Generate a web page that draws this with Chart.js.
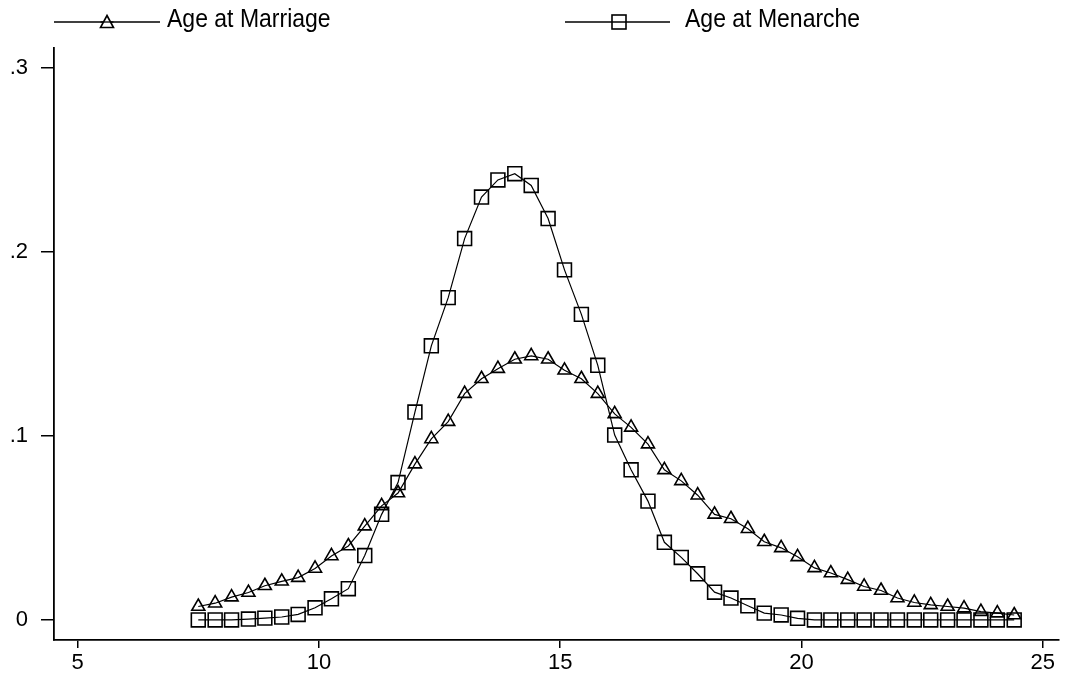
<!DOCTYPE html>
<html>
<head>
<meta charset="utf-8">
<script src="https://cdn.jsdelivr.net/npm/chart.js@4.4.1/dist/chart.umd.min.js"></script>
<style>
  html, body { margin: 0; padding: 0; background: #fff; }
  #wrap { width: 1070px; height: 679px; position: relative; }
</style>
</head>
<body>
<div id="wrap"><canvas id="c" width="1070" height="679"></canvas></div>
<script>
// ---- Data ----
const ageGrid = [7.50, 7.85, 8.19, 8.54, 8.88, 9.23, 9.57, 9.92, 10.26, 10.61,
  10.95, 11.30, 11.64, 11.99, 12.33, 12.68, 13.02, 13.37, 13.71, 14.06,
  14.40, 14.75, 15.09, 15.44, 15.78, 16.13, 16.47, 16.82, 17.16, 17.51,
  17.85, 18.20, 18.54, 18.89, 19.23, 19.58, 19.92, 20.27, 20.61, 20.96,
  21.30, 21.65, 21.99, 22.34, 22.68, 23.03, 23.37, 23.72, 24.06, 24.41];

const marriageDensity = [0.0073, 0.0091, 0.0124, 0.0149, 0.0186, 0.0210, 0.0230, 0.0280, 0.0348, 0.0402,
  0.0510, 0.0620, 0.0690, 0.0847, 0.0984, 0.1078, 0.1230, 0.1311, 0.1366, 0.1417,
  0.1435, 0.1417, 0.1357, 0.1311, 0.1230, 0.1120, 0.1047, 0.0956, 0.0816, 0.0756,
  0.0678, 0.0574, 0.0550, 0.0496, 0.0425, 0.0392, 0.0343, 0.0283, 0.0255, 0.0219,
  0.0182, 0.0160, 0.0119, 0.0095, 0.0082, 0.0073, 0.0064, 0.0045, 0.0037, 0.0027];

const menarcheDensity = [0, 0, 0, 0.0005, 0.0010, 0.0016, 0.0030, 0.0066, 0.0115, 0.0170,
  0.0350, 0.0574, 0.0747, 0.1130, 0.1490, 0.1752, 0.2073, 0.2299, 0.2392, 0.2426,
  0.2362, 0.2182, 0.1903, 0.1661, 0.1384, 0.1005, 0.0816, 0.0646, 0.0422, 0.0340,
  0.0251, 0.0151, 0.0119, 0.0077, 0.0037, 0.0027, 0.0009, 0, 0, 0,
  0, 0, 0, 0, 0, 0, 0, 0, 0, 0];

const seriesNames = ["Age at Marriage", "Age at Menarche"];
const xTickValues = [5, 10, 15, 20, 25];
const xTickLabels = ["5", "10", "15", "20", "25"];
const yTickValues = [0, 0.1, 0.2, 0.3];
const yTickLabels = ["0", ".1", ".2", ".3"];

// ---- Chart ----
const FONT = "'Liberation Sans', Arial, sans-serif";

function toPoints(xs, ys) { return xs.map((x, i) => ({ x: x, y: ys[i] })); }

function noPad(scale) {
  scale.paddingLeft = 0; scale.paddingRight = 0;
  scale.paddingTop = 0; scale.paddingBottom = 0;
}

const legendPlugin = {
  id: 'stataLegend',
  afterDraw(chart) {
    const ctx = chart.ctx;
    ctx.save();
    ctx.strokeStyle = '#000';
    // item 1: line + triangle
    ctx.lineWidth = 1.3;
    ctx.beginPath(); ctx.moveTo(54, 22); ctx.lineTo(160, 22); ctx.stroke();
    ctx.lineWidth = 1.6;
    ctx.fillStyle = '#fff';
    ctx.beginPath();
    ctx.moveTo(107, 15.5); ctx.lineTo(113.5, 27.5); ctx.lineTo(100.5, 27.5); ctx.closePath();
    ctx.fill(); ctx.stroke();
    ctx.beginPath(); ctx.moveTo(100.5, 22); ctx.lineTo(113.5, 22); ctx.lineWidth = 1.3; ctx.stroke();
    // item 2: line + square
    ctx.lineWidth = 1.3;
    ctx.beginPath(); ctx.moveTo(565, 22); ctx.lineTo(670, 22); ctx.stroke();
    ctx.lineWidth = 1.6;
    ctx.strokeRect(612, 15, 14, 14);
    // texts (slightly tall, like the reference)
    ctx.fillStyle = '#000';
    ctx.font = "23px " + FONT;
    ctx.textBaseline = 'alphabetic';
    ctx.textAlign = 'left';
    ctx.save(); ctx.translate(167, 27); ctx.scale(1, 1.1); ctx.fillText(seriesNames[0], 0, 0); ctx.restore();
    ctx.save(); ctx.translate(685, 27); ctx.scale(1, 1.1); ctx.fillText(seriesNames[1], 0, 0); ctx.restore();
    ctx.restore();
  }
};

new Chart(document.getElementById('c'), {
  type: 'line',
  data: {
    datasets: [
      {
        label: seriesNames[0],
        data: toPoints(ageGrid, marriageDensity),
        borderColor: '#000',
        borderWidth: 1.2,
        tension: 0,
        pointStyle: 'triangle',
        pointRadius: 7.5,
        pointBorderWidth: 1.6,
        pointBorderColor: '#000',
        pointBackgroundColor: 'rgba(0,0,0,0)',
        fill: false
      },
      {
        label: seriesNames[1],
        data: toPoints(ageGrid, menarcheDensity),
        borderColor: '#000',
        borderWidth: 1.2,
        tension: 0,
        pointStyle: 'rect',
        pointRadius: 9.8,
        pointBorderWidth: 1.6,
        pointBorderColor: '#000',
        pointBackgroundColor: 'rgba(0,0,0,0)',
        fill: false
      }
    ]
  },
  options: {
    responsive: false,
    animation: false,
    devicePixelRatio: 1,
    layout: { padding: { left: 0, right: 0, top: 48, bottom: 0 } },
    plugins: { legend: { display: false }, tooltip: { enabled: false } },
    scales: {
      x: {
        type: 'linear',
        min: 4.51,
        max: 25.33,
        afterBuildTicks(scale) { scale.ticks = xTickValues.map(v => ({ value: v })); },
        afterFit(scale) { scale.height = 39; noPad(scale); },
        ticks: {
          color: '#000',
          font: { family: FONT, size: 22 },
          padding: 2,
          maxRotation: 0,
          autoSkip: false,
          callback(v) { const i = xTickValues.indexOf(v); return i >= 0 ? xTickLabels[i] : ''; }
        },
        grid: { drawOnChartArea: false, drawTicks: true, tickLength: 8, color: '#000', lineWidth: 1.5 },
        border: { display: true, color: '#000', width: 1.8 }
      },
      y: {
        type: 'linear',
        min: -0.0109,
        max: 0.3109,
        afterBuildTicks(scale) { scale.ticks = yTickValues.map(v => ({ value: v })); },
        afterFit(scale) { scale.width = 54; noPad(scale); },
        ticks: {
          color: '#000',
          font: { family: FONT, size: 22 },
          padding: 13,
          autoSkip: false,
          callback(v) { const i = yTickValues.findIndex(t => Math.abs(t - v) < 1e-9); return i >= 0 ? yTickLabels[i] : ''; }
        },
        grid: { drawOnChartArea: false, drawTicks: true, tickLength: 13, color: '#000', lineWidth: 1.5 },
        border: { display: true, color: '#000', width: 1.8 }
      }
    }
  },
  plugins: [legendPlugin]
});
</script>
</body>
</html>
